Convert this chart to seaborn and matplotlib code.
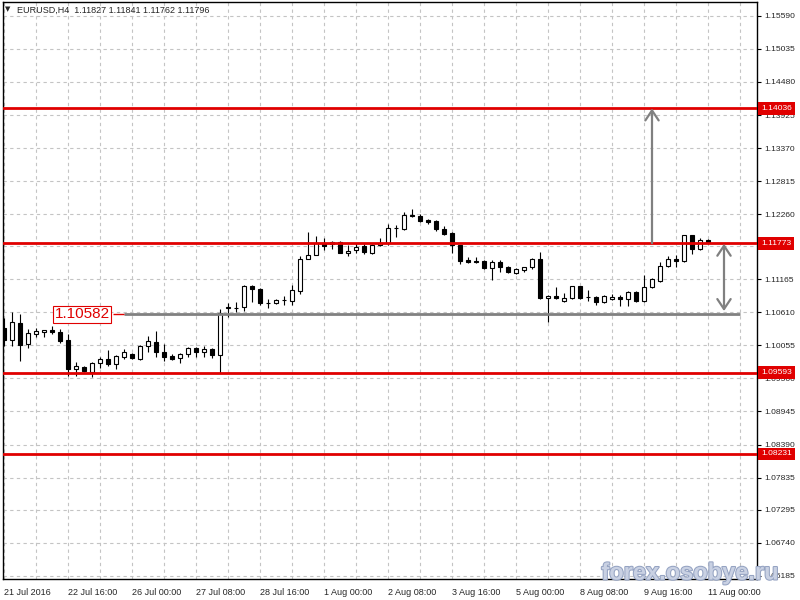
import numpy as np
import pandas as pd
import matplotlib
matplotlib.use("Agg")
import matplotlib.pyplot as plt
import matplotlib.transforms as mtransforms
import matplotlib.patheffects as pe
import seaborn as sns

# EURUSD H4 candles, oldest first
opens = [1.10348, 1.10146, 1.10432, 1.10079, 1.10247, 1.10280, 1.10314, 1.10280, 1.10146, 1.09659,
         1.09692, 1.09608, 1.09760, 1.09827, 1.09743, 1.09860, 1.09911, 1.09827, 1.10045, 1.10112,
         1.09944, 1.09877, 1.09844, 1.09911, 1.10012, 1.09944, 1.09995, 1.09894, 1.10684, 1.10684,
         1.10700, 1.11053, 1.11003, 1.10768, 1.10768, 1.10818, 1.10801, 1.10969, 1.11507, 1.11574,
         1.11776, 1.11792, 1.11792, 1.11608, 1.11658, 1.11725, 1.11608, 1.11742, 1.11776, 1.12028,
         1.12011, 1.12246, 1.12229, 1.12162, 1.12145, 1.12011, 1.11944, 1.11742, 1.11490, 1.11480,
         1.11473, 1.11356, 1.11456, 1.11372, 1.11272, 1.11322, 1.11372, 1.11507, 1.10852, 1.10885,
         1.10801, 1.10852, 1.11053, 1.10868, 1.10868, 1.10784, 1.10835, 1.10868, 1.10835, 1.10952,
         1.10801, 1.11036, 1.11137, 1.11389, 1.11507, 1.11473, 1.11905, 1.11675, 1.11827]
highs = [1.10516, 1.10616, 1.10583, 1.10331, 1.10348, 1.10314, 1.10381, 1.10331, 1.10247, 1.09776,
         1.09709, 1.09776, 1.09860, 1.09978, 1.09894, 1.09995, 1.09928, 1.10062, 1.10213, 1.10297,
         1.10079, 1.09911, 1.09928, 1.10028, 1.10028, 1.10045, 1.10012, 1.10667, 1.10768, 1.10784,
         1.11070, 1.11070, 1.11020, 1.10835, 1.10835, 1.10885, 1.11070, 1.11557, 1.11960, 1.11893,
         1.11860, 1.11809, 1.11809, 1.11742, 1.11776, 1.11759, 1.11759, 1.11860, 1.12095, 1.12078,
         1.12296, 1.12347, 1.12263, 1.12179, 1.12162, 1.12061, 1.11960, 1.11750, 1.11540, 1.11540,
         1.11490, 1.11490, 1.11490, 1.11389, 1.11356, 1.11372, 1.11524, 1.11624, 1.10902, 1.11036,
         1.10936, 1.11053, 1.11060, 1.10986, 1.10885, 1.10902, 1.10919, 1.10902, 1.10969, 1.10969,
         1.11238, 1.11188, 1.11456, 1.11557, 1.11574, 1.11910, 1.11915, 1.11860, 1.11841]
lows = [1.10045, 1.10045, 1.09793, 1.10012, 1.10196, 1.10196, 1.10247, 1.10096, 1.09541, 1.09541,
        1.09608, 1.09524, 1.09676, 1.09709, 1.09659, 1.09827, 1.09827, 1.09810, 1.09944, 1.09860,
        1.09793, 1.09810, 1.09760, 1.09860, 1.09860, 1.09860, 1.09844, 1.09592, 1.10532, 1.10616,
        1.10633, 1.10784, 1.10734, 1.10684, 1.10751, 1.10734, 1.10734, 1.10919, 1.11500, 1.11570,
        1.11658, 1.11675, 1.11600, 1.11557, 1.11608, 1.11591, 1.11591, 1.11725, 1.11742, 1.11876,
        1.12000, 1.12212, 1.12128, 1.12095, 1.11977, 1.11910, 1.11608, 1.11423, 1.11440, 1.11440,
        1.11339, 1.11154, 1.11288, 1.11272, 1.11255, 1.11288, 1.11339, 1.10835, 1.10448, 1.10835,
        1.10784, 1.10835, 1.10835, 1.10801, 1.10734, 1.10768, 1.10818, 1.10717, 1.10717, 1.10784,
        1.10784, 1.11020, 1.11120, 1.11372, 1.11372, 1.11456, 1.11591, 1.11658, 1.11762]
closes = [1.10146, 1.10448, 1.10062, 1.10264, 1.10297, 1.10306, 1.10280, 1.10129, 1.09659, 1.09709,
          1.09625, 1.09760, 1.09827, 1.09743, 1.09877, 1.09944, 1.09844, 1.10045, 1.10129, 1.09944,
          1.09860, 1.09827, 1.09911, 1.10012, 1.09944, 1.09995, 1.09894, 1.10600, 1.10700, 1.10690,
          1.11053, 1.11003, 1.10768, 1.10760, 1.10818, 1.10810, 1.10986, 1.11507, 1.11574, 1.11776,
          1.11725, 1.11759, 1.11608, 1.11641, 1.11708, 1.11624, 1.11742, 1.11776, 1.12028, 1.12035,
          1.12246, 1.12235, 1.12145, 1.12128, 1.12011, 1.11927, 1.11742, 1.11473, 1.11456, 1.11450,
          1.11356, 1.11456, 1.11372, 1.11288, 1.11339, 1.11370, 1.11507, 1.10852, 1.10885, 1.10852,
          1.10852, 1.11053, 1.10852, 1.10860, 1.10784, 1.10885, 1.10868, 1.10835, 1.10952, 1.10801,
          1.11036, 1.11171, 1.11389, 1.11507, 1.11473, 1.11905, 1.11675, 1.11826, 1.11796]

# horizontal levels
level_prices = [1.14036, 1.11773, 1.09593, 1.08231]
mid_level = 1.10582

ytick_values = [1.15590, 1.15035, 1.14480, 1.13925, 1.13370, 1.12815, 1.12260, 1.11720, 1.11165,
                1.10610, 1.10055, 1.09500, 1.08945, 1.08390, 1.07835, 1.07295, 1.06740, 1.06185]
xtick_labels = ['21 Jul 2016', '22 Jul 16:00', '26 Jul 00:00', '27 Jul 08:00', '28 Jul 16:00',
                '1 Aug 00:00', '2 Aug 08:00', '3 Aug 16:00', '5 Aug 00:00', '8 Aug 08:00',
                '9 Aug 16:00', '11 Aug 00:00']
header = 'EURUSD,H4  1.11827 1.11841 1.11762 1.11796'

sns.set_style("white")
plt.rcParams['font.family'] = ['Liberation Sans', 'DejaVu Sans']

red = '#e00000'
grey = '#808080'

df = pd.DataFrame({'open': opens, 'high': highs, 'low': lows, 'close': closes})
df['bar'] = np.arange(len(df))
up = df['close'] >= df['open']

fig = plt.figure(figsize=(8, 6), dpi=100)
ax = fig.add_axes([0.0034, 0.0345, 0.9425, 0.9622])

# candles: wicks then bodies
ax.vlines(df['bar'], df['low'], df['high'], color='black', lw=0.8, zorder=3)
body_bottom = df[['open', 'close']].min(axis=1)
body_height = (df['close'] - df['open']).abs()
ax.bar(df['bar'], body_height, bottom=body_bottom, width=0.6,
       color=np.where(up, 'white', 'black'), edgecolor='black', linewidth=0.8, zorder=4)

# levels
for p in level_prices:
    ax.axhline(p, color=red, lw=2, zorder=5)
ax.hlines(mid_level, 15, 92, color=grey, lw=2, zorder=5)
ax.hlines(mid_level, 13.6, 15, color=red, lw=1, zorder=5)
ax.text(9.8, mid_level, '1.10582', ha='center', va='center', color=red, fontsize=11, zorder=6,
        bbox=dict(boxstyle='square,pad=0.1', fc='white', ec=red, lw=0.8))

# arrows
ax.annotate('', xy=(81, level_prices[0]), xytext=(81, level_prices[1]),
            arrowprops=dict(arrowstyle='->,head_length=0.6,head_width=0.4', color=grey, lw=1.6,
                            shrinkA=0, shrinkB=0, mutation_scale=12), zorder=6)
ax.annotate('', xy=(90, mid_level + 0.0005), xytext=(90, level_prices[1] - 0.0001),
            arrowprops=dict(arrowstyle='<->,head_length=0.6,head_width=0.4', color=grey, lw=1.6,
                            shrinkA=0, shrinkB=0, mutation_scale=12), zorder=6)

# axes, ticks, grid
ax.set_xlim(-0.16, 94.09)
ax.set_ylim(1.06126, 1.15824)
ax.yaxis.tick_right()
ax.set_yticks(ytick_values)
ax.set_yticklabels([f'{v:.5f}' for v in ytick_values])
ax.set_xticks(np.arange(0, 8 * len(xtick_labels), 8))
ax.set_xticklabels(xtick_labels)
ax.set_xticks(np.arange(4, 93, 8), minor=True)
for lab in ax.get_xticklabels():
    lab.set_ha('left')
ax.tick_params(axis='both', which='major', length=3, width=0.8, direction='out', labelsize=6.5,
               pad=3, color='black')
ax.tick_params(axis='y', pad=2.5, labelsize=6.1)
ax.tick_params(axis='x', which='minor', length=0)
ax.set_axisbelow(True)
ax.yaxis.grid(True, color='#c4c4c4', ls=(0, (3, 3)), lw=0.8)
ax.xaxis.grid(True, which='both', color='#c4c4c4', ls=(0, (3, 3)), lw=0.8)
for s in ax.spines.values():
    s.set_color('black')
    s.set_linewidth(1)

# price tags on the right scale
trans = mtransforms.blended_transform_factory(ax.transAxes, ax.transData)
for p in level_prices:
    ax.text(1.006, p, f'{p:.5f}', transform=trans, ha='left', va='center', color='white',
            fontsize=6.1, clip_on=False, zorder=10,
            bbox=dict(boxstyle='square,pad=0.35', fc=red, ec='none'))

# header and watermark
fig.text(8 / 800, 1 - 9 / 600, '\u25bc', fontsize=5, ha='center', va='center',
         family=['DejaVu Sans'])
fig.text(17 / 800, 1 - 10 / 600, header, fontsize=6.5, ha='left', va='center')
fig.text(0.8625, 0.045, 'forex.osobye.ru', fontsize=17, fontweight='bold', ha='center',
         va='center', color='#c9d1e3', zorder=20,
         path_effects=[pe.withStroke(linewidth=1.5, foreground='#95a3c2')])

fig.savefig('out.png', dpi=100)
